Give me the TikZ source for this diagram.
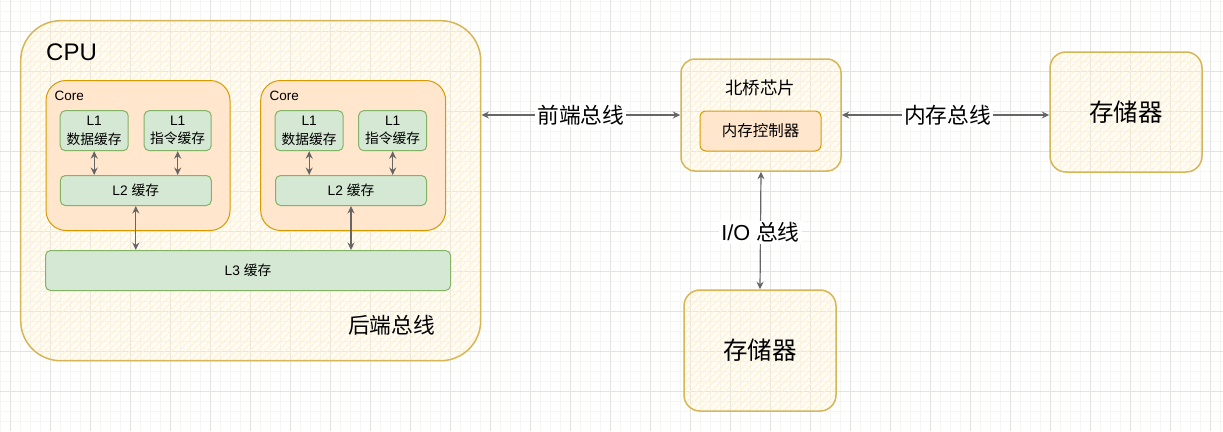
\documentclass[tikz,border=0pt]{standalone}
\usepackage{fontspec}
\setmainfont{Noto Sans CJK SC}
\newfontfamily\lat{Liberation Sans}
\usetikzlibrary{arrows.meta,patterns.meta}
\definecolor{gridmajor}{HTML}{E3E3DF}
\definecolor{gridminor}{HTML}{F5F5F1}
\definecolor{sketchstroke}{HTML}{D6B656}
\definecolor{hatchline}{HTML}{FFF2D0}
\definecolor{hatchbg}{HTML}{FFF2CC}
\definecolor{corefill}{HTML}{FFE6CC}
\definecolor{corestroke}{HTML}{D79B00}
\definecolor{greenfill}{HTML}{D5E8D4}
\definecolor{greenstroke}{HTML}{82B366}
\definecolor{arrgray}{HTML}{666666}
\tikzset{
  hatchbox/.style={draw=sketchstroke, line width=1.5pt, rounded corners=#1,
    preaction={fill=hatchbg, fill opacity=0.18},
    preaction={pattern={Lines[angle=45,distance=5pt,line width=1pt]}, pattern color=hatchline}},
  corebox/.style={draw=corestroke, fill=corefill, line width=1pt, rounded corners=#1},
  greenbox/.style={draw=greenstroke, fill=greenfill, line width=1pt, rounded corners=5pt,
    align=center, inner sep=0pt, font=\fontsize{13.75}{18.3}\selectfont},
  arr/.style={draw=arrgray, line width=1.2pt,
    {Stealth[length=7.5pt,width=7pt,inset=2.5pt]}-{Stealth[length=7.5pt,width=7pt,inset=2.5pt]}},
  lbl/.style={fill=white, inner sep=2pt, font=\fontsize{21.7}{24}\selectfont},
}
\begin{document}
\begin{tikzpicture}[x=1pt,y=-1pt]
\useasboundingbox (0,0) rectangle (1223,431);
\fill[white] (0,0) rectangle (1223,431);
% grid
\foreach \x in {0,10,...,1220} \draw[gridminor, line width=0.8pt] (\x,0) -- (\x,431);
\foreach \y in {1.7,11.7,...,430} \draw[gridminor, line width=0.8pt] (0,\y) -- (1223,\y);
\foreach \x in {10,50,...,1210} \draw[gridmajor, line width=1pt] (\x,0) -- (\x,431);
\foreach \y in {31.7,71.7,...,430} \draw[gridmajor, line width=1pt] (0,\y) -- (1223,\y);

% CPU
\node[hatchbox=40pt, minimum width=460pt, minimum height=340pt] (cpu) at (250.7,190.7) {};
\node[anchor=west, inner sep=0pt, font=\fontsize{24}{28}\selectfont] (cputxt) at (46,52) {\lat CPU};
\node[inner sep=0pt, font=\fontsize{21.7}{24}\selectfont] (backbus) at (391.5,325) {后端总线};

% Cores
\node[corebox=20pt, minimum width=184pt, minimum height=150pt] (core1) at (138,155.5) {};
\node[corebox=20pt, minimum width=185pt, minimum height=150pt] (core2) at (353.2,155.5) {};
\node[anchor=west, inner sep=0pt, font=\fontsize{13.5}{16}\selectfont] (core1txt) at (54.5,95.5) {\lat Core};
\node[anchor=west, inner sep=0pt, font=\fontsize{13.5}{16}\selectfont] (core2txt) at (269.5,95.5) {\lat Core};

\node[greenbox, minimum width=68pt, minimum height=40pt] (l1d1) at (94.2,130.7) {{\lat L1}\\数据缓存};
\node[greenbox, minimum width=67pt, minimum height=40pt] (l1i1) at (177.7,130.7) {{\lat L1}\\指令缓存};
\node[greenbox, minimum width=151pt, minimum height=30pt] (l2a) at (135.8,190.5) {{\lat L2 }缓存};
\node[greenbox, minimum width=68pt, minimum height=40pt] (l1d2) at (309.2,130.7) {{\lat L1}\\数据缓存};
\node[greenbox, minimum width=68pt, minimum height=40pt] (l1i2) at (392.7,130.7) {{\lat L1}\\指令缓存};
\node[greenbox, minimum width=151pt, minimum height=30pt] (l2b) at (351,190.5) {{\lat L2 }缓存};
\node[greenbox, minimum width=405pt, minimum height=40pt] (l3) at (248,270.5) {{\lat L3 }缓存};

\draw[arr] (l1d1.south) -- (l1d1.south |- l2a.north);
\draw[arr] (l1i1.south) -- (l1i1.south |- l2a.north);
\draw[arr] (l1d2.south) -- (l1d2.south |- l2b.north);
\draw[arr] (l1i2.south) -- (l1i2.south |- l2b.north);
\draw[arr] (l2a.south) -- (l2a.south |- l3.north);
\draw[arr] (l2b.south) -- (l2b.south |- l3.north);

% North bridge
\node[hatchbox=14pt, minimum width=160pt, minimum height=112pt] (nb) at (761,115) {};
\node[inner sep=0pt, font=\fontsize{17.5}{20}\selectfont] (nbtxt) at (760,88) {北桥芯片};
\node[corebox=6pt, minimum width=121pt, minimum height=40pt, font=\fontsize{15.5}{18}\selectfont] (mc) at (760.5,131) {内存控制器};

% Storage
\node[hatchbox=16pt, minimum width=152pt, minimum height=120pt, font=\fontsize{24.5}{28}\selectfont] (stor1) at (1126,112) {存储器};
\node[hatchbox=16pt, minimum width=152pt, minimum height=121pt, font=\fontsize{24.5}{28}\selectfont] (stor2) at (760,350.5) {存储器};

% Buses
\draw[arr] (nb.west -| cpu.east) -- node[lbl] (fsb) {前端总线} (nb.west);
\draw[arr] (nb.east) -- node[lbl, xshift=2pt] (msb) {内存总线} (nb.east -| stor1.west);
\draw[arr] (nb.south) -- node[lbl, yshift=-2pt] (iob) {{\lat I/O }总线} (stor2.north);
\end{tikzpicture}
\end{document}
